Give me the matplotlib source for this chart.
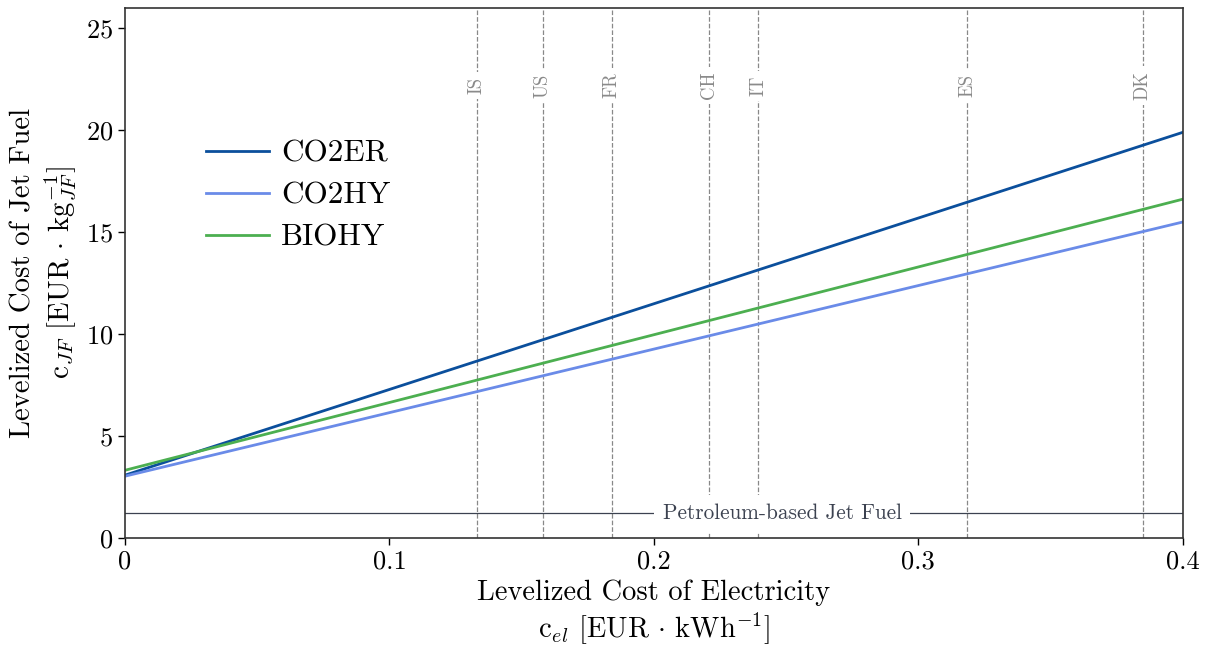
import matplotlib
matplotlib.use('Agg')
import matplotlib.pyplot as plt
import numpy as np

plt.rcParams['font.family'] = 'serif'
plt.rcParams['font.serif'] = ['cmr10']
plt.rcParams['mathtext.fontset'] = 'cm'
plt.rcParams['axes.formatter.use_mathtext'] = True

# LCOE range and resulting fuel cost at both ends (linear in c_el)
c_el = [0.0, 0.4]
pathways = ["CO2ER", "CO2HY", "BIOHY"]
cost_jf = {
    "CO2ER": [3.08, 19.9],
    "CO2HY": [3.03, 15.5],
    "BIOHY": [3.32, 16.62],
}
colors = {"CO2ER": "#0b4f9c", "CO2HY": "#6a8be8", "BIOHY": "#4caf50"}

# country electricity prices
countries = ["IS", "US", "FR", "CH", "IT", "ES", "DK"]
country_lcoe = [0.133, 0.158, 0.184, 0.221, 0.2395, 0.3185, 0.385]

petroleum_jf = 1.2

fig = plt.figure(figsize=(12.08, 6.45), dpi=100)
ax = fig.add_axes([0.1035, 0.166, 0.8755, 0.8215])

for p in pathways:
    ax.plot(c_el, cost_jf[p], color=colors[p], lw=2, label=p)

for name, x in zip(countries, country_lcoe):
    ax.axvline(x, color='#888888', ls='--', lw=0.9, zorder=0)
    ax.text(x, 22.2, name, rotation=90, ha='center', va='center', fontsize=13.5,
            color='#8a8a8a', bbox=dict(facecolor='white', edgecolor='none', pad=3.5))

ax.axhline(petroleum_jf, color='#3c4250', lw=0.9, zorder=1)
ax.text(0.2485, petroleum_jf, "Petroleum-based Jet Fuel", ha='center', va='center',
        fontsize=15.3, color='#3c4250',
        bbox=dict(facecolor='white', edgecolor='none', pad=6))

ax.set_xlim(0, 0.4)
ax.set_ylim(0, 26)
ax.set_xticks([0, 0.1, 0.2, 0.3, 0.4])
ax.set_xticklabels(["0", "0.1", "0.2", "0.3", "0.4"])
ax.set_yticks([0, 5, 10, 15, 20, 25])
ax.tick_params(labelsize=19, direction='out', length=5, width=1)

ax.set_xlabel("Levelized Cost of Electricity\n" + r"c$_{el}$ [EUR $\cdot$ kWh$^{-1}$]",
              fontsize=20.5, linespacing=1.2, labelpad=4)
ax.set_ylabel("Levelized Cost of Jet Fuel\n" + r"c$_{JF}$ [EUR $\cdot$ kg$_{JF}^{-1}$]",
              fontsize=20.8, linespacing=1.2, labelpad=6)

for s in ax.spines.values():
    s.set_linewidth(1.2)
    s.set_color('#333333')

ax.legend(loc='upper left', bbox_to_anchor=(0.05, 0.805), frameon=False, fontsize=22.5,
          handlelength=2.0, handletextpad=0.4, labelspacing=0.45)

fig.savefig("out.png", dpi=100)
